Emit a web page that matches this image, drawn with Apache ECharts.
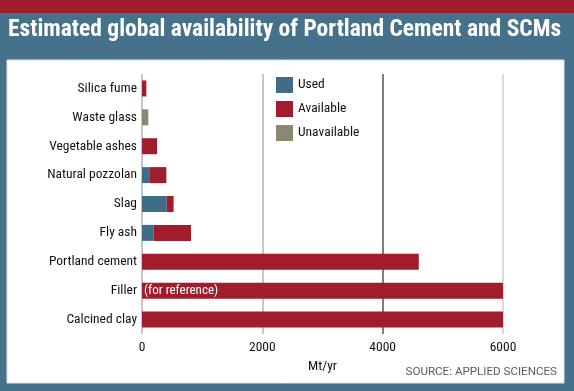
<!DOCTYPE html>
<html><head><meta charset="utf-8">
<script src="https://cdn.jsdelivr.net/npm/echarts@6/dist/echarts.min.js"></script>
<style>html,body{margin:0;padding:0;background:#45718a}#c{width:574px;height:391px}</style>
</head><body><div id="c"></div>
<script>
const categories = ['Silica fume','Waste glass','Vegetable ashes','Natural pozzolan','Slag','Fly ash','Portland cement','Filler','Calcined clay'];
const usedValues = [0, 0, 0, 120, 410, 195, 0, 0, 0];
const availableValues = [72, 0, 250, 285, 115, 620, 4600, 6000, 6000];
const unavailableValues = [0, 105, 0, 0, 0, 0, 0, 0, 0];
const xTicks = [0, 2000, 4000, 6000];

const FONT = '"Roboto Condensed",sans-serif';
const FS = 13.5;
const chart = echarts.init(document.getElementById('c'));
chart.setOption({
  backgroundColor: '#45718a',
  animation: false,
  graphic: [
    {type:'rect', shape:{x:0,y:0,width:574,height:13}, style:{fill:'#9e1c2c'}, z:-1},
    {type:'rect', shape:{x:7,y:60,width:557,height:323}, style:{fill:'#ffffff', stroke:'#d8e4ea', lineWidth:1}, z:-1},
    {type:'text', left:8, top:18, style:{text:'Estimated global availability of Portland Cement and SCMs', fill:'#ffffff', font:'bold 23.5px "Roboto Condensed",sans-serif'}},
    {type:'text', right:17, top:366, style:{text:'SOURCE: APPLIED SCIENCES', fill:'#5a5a5a', font:'11.6px "Roboto",sans-serif'}}
  ],
  legend: {
    orient:'vertical', left:276, top:77, padding:0, itemWidth:17, itemHeight:16, itemGap:8, icon:'rect',
    textStyle:{fontFamily:FONT, fontSize:FS, color:'#111'},
    data:['Used','Available','Unavailable']
  },
  grid: {left:142, right:71, top:74, bottom:57},
  xAxis: {
    type:'value', min:xTicks[0], max:xTicks[xTicks.length-1], interval:2000,
    name:'Mt/yr', nameLocation:'middle', nameGap:25,
    nameTextStyle:{fontFamily:FONT, fontSize:FS, color:'#111'},
    axisLine:{show:false}, axisTick:{show:false},
    axisLabel:{fontFamily:FONT, fontSize:FS, color:'#111', margin:7, formatter: v => String(v)},
    splitLine:{show:true, lineStyle:{color:['#b5b5b5','#b5b5b5','#555555','#cfcfcf'], width:1.5}}
  },
  yAxis: {
    type:'category', data:categories, inverse:true,
    axisLine:{show:false}, axisTick:{show:false},
    axisLabel:{fontFamily:FONT, fontSize:FS, color:'#111', margin:5}
  },
  series: [
    {name:'Used', type:'bar', stack:'s', data:usedValues, barWidth:16, itemStyle:{color:'#3f6d89'}},
    {name:'Available', type:'bar', stack:'s', barWidth:16, itemStyle:{color:'#a11d2d'},
      data: availableValues.map((v,i)=> categories[i]==='Filler'
        ? {value:v, label:{show:true, position:'insideLeft', distance:2, formatter:'(for reference)', color:'#fff', fontFamily:FONT, fontSize:13}}
        : v)},
    {name:'Unavailable', type:'bar', stack:'s', data:unavailableValues, barWidth:16, itemStyle:{color:'#8b8872'}}
  ]
});
</script></body></html>
